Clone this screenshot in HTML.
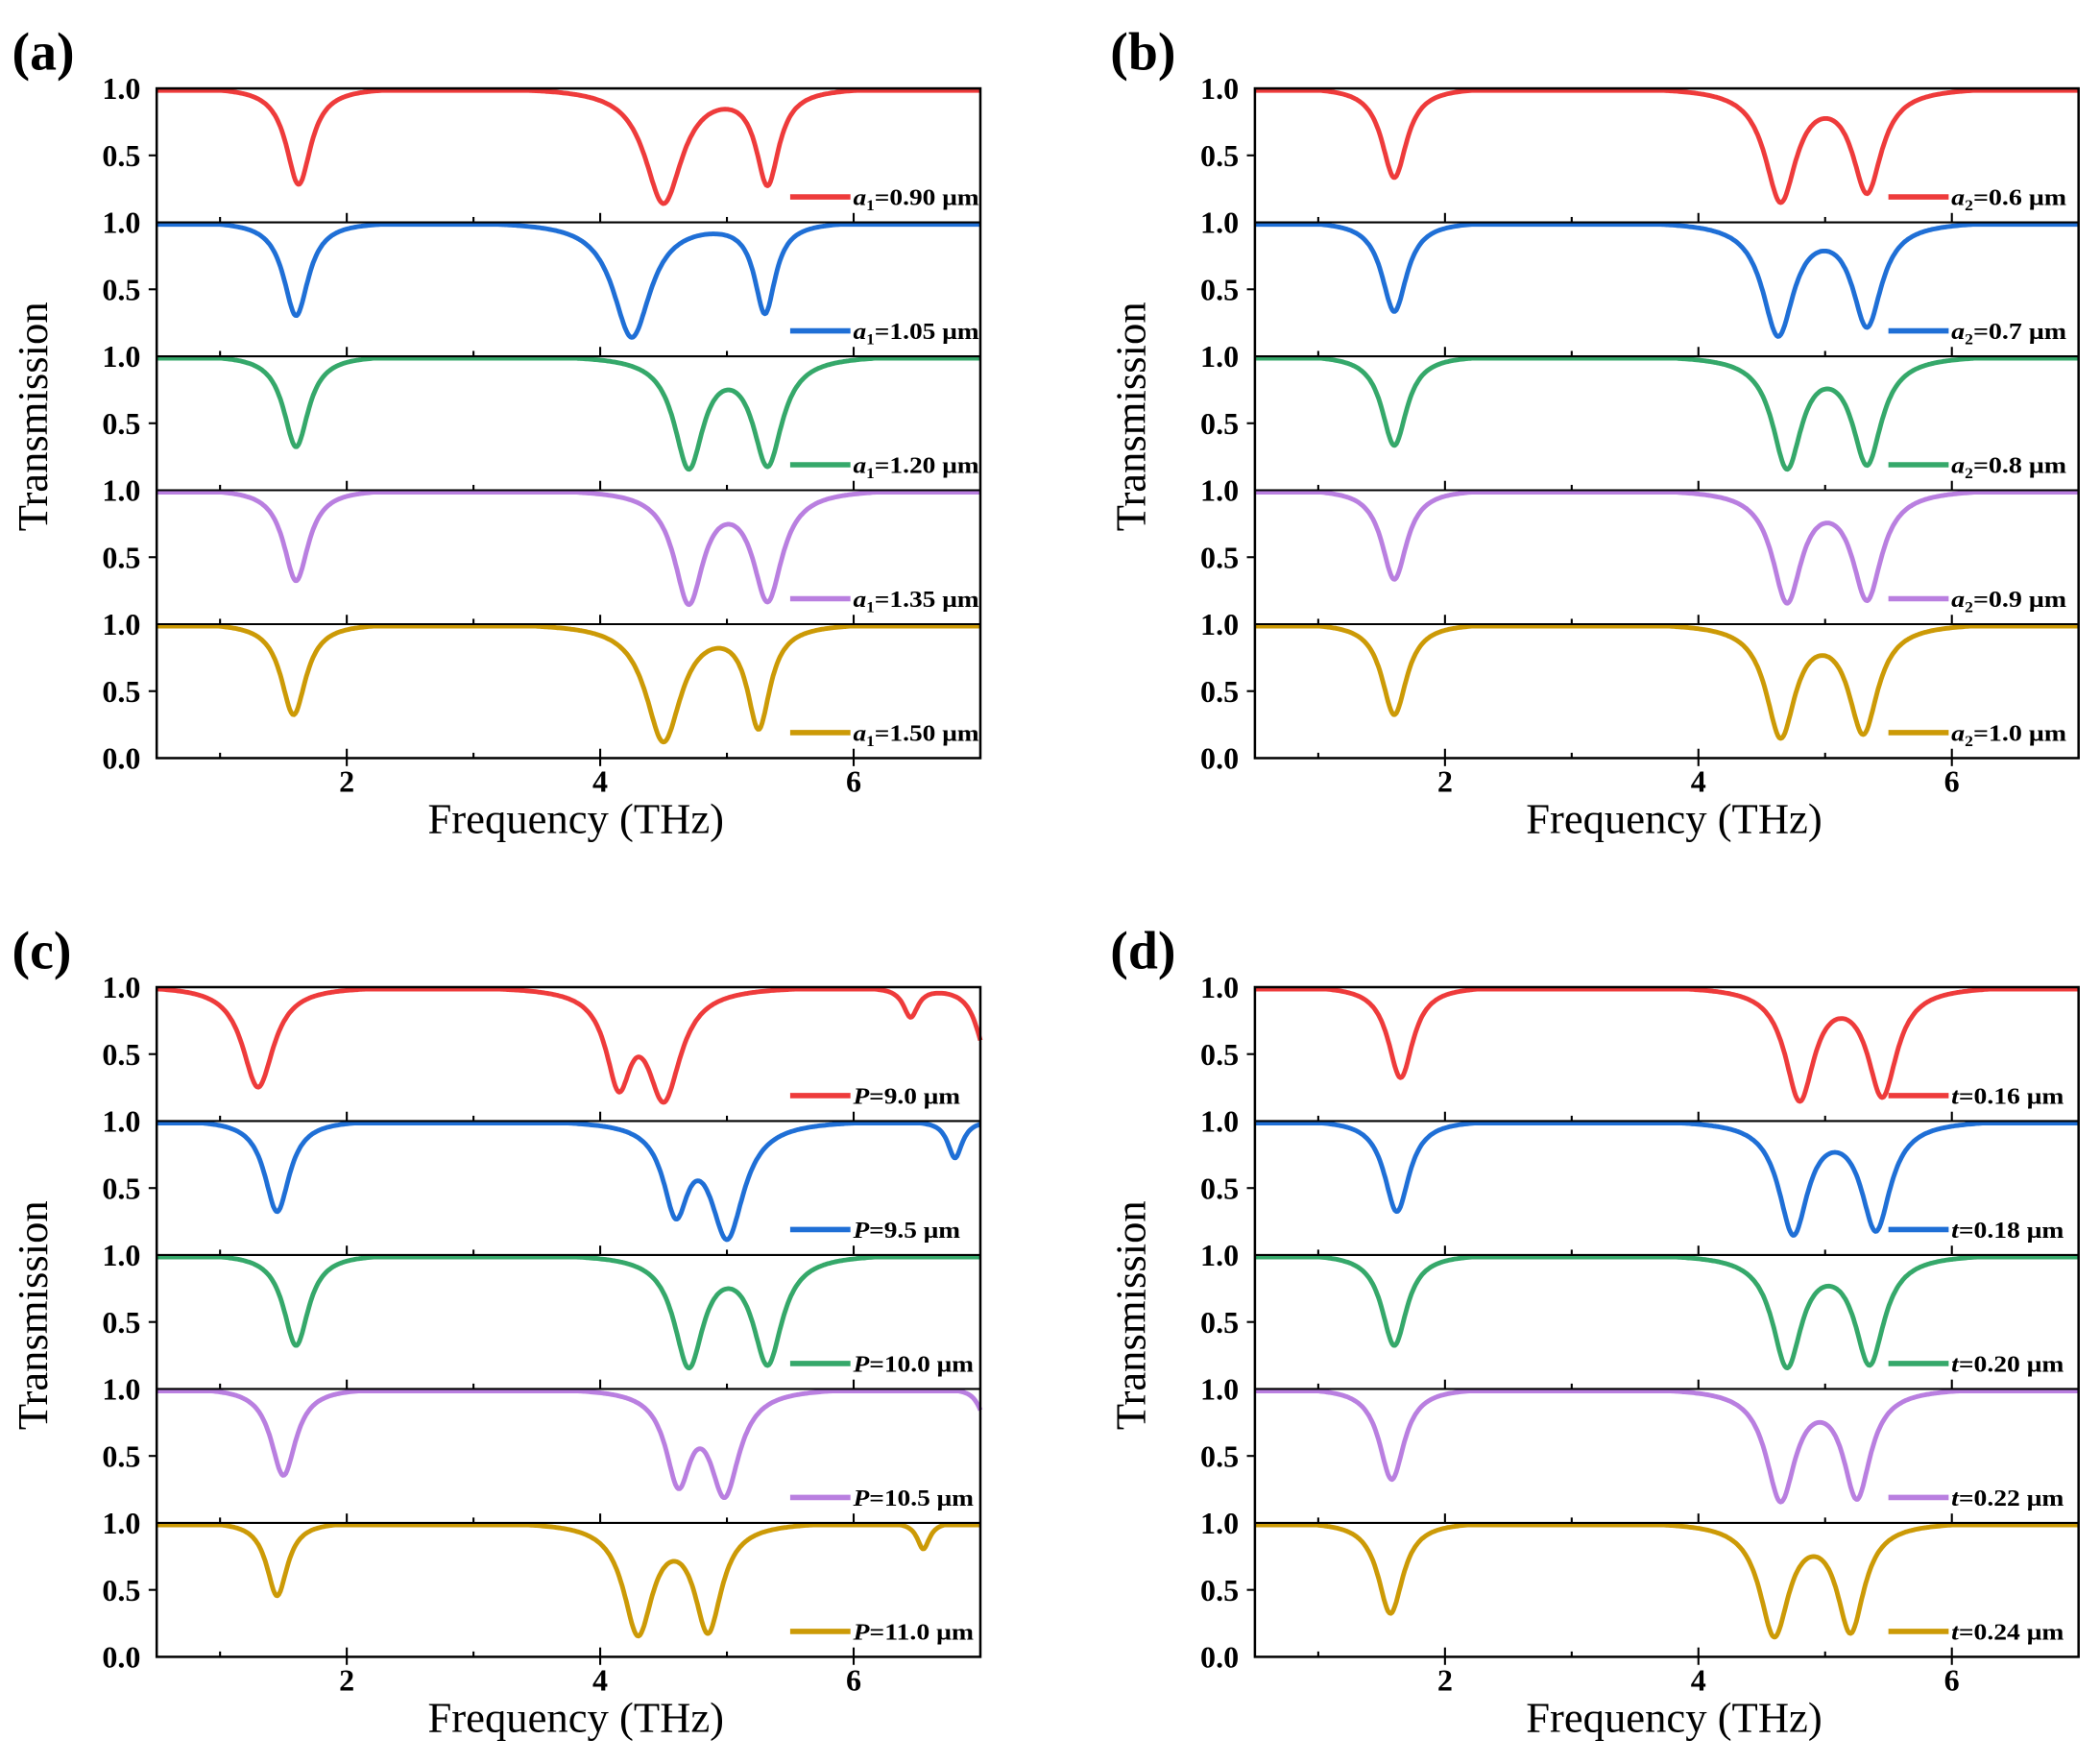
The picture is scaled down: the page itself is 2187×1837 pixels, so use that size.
<!DOCTYPE html>
<html><head><meta charset="utf-8"><style>
html,body{margin:0;padding:0;background:#fff}
svg{display:block}
text{font-family:"Liberation Serif","Times New Roman",serif}
</style></head><body>
<svg id="s" width="2187" height="1837" viewBox="0 0 1568 1317" preserveAspectRatio="none" xmlns="http://www.w3.org/2000/svg"></svg>
<script>
const s=document.getElementById('s');
const NS='http://www.w3.org/2000/svg';
function el(t,a,txt){const e=document.createElementNS(NS,t);for(const k in a)e.setAttribute(k,a[k]);if(txt!==undefined)e.innerHTML=txt;s.appendChild(e);return e;}
const cols=['#ee3b3b','#1f6fd6','#35a86a','#b97fe0','#cc9a06'];
const sub=n=>`<tspan font-style="italic">a</tspan><tspan font-size="11" dy="4">${n}</tspan><tspan dy="-4">`;
const panels=[
 {x:117,y:66,lab:'(a)',tl:[94,94,94,94,94],leg:[sub(1)+'=0.90 μm</tspan>',sub(1)+'=1.05 μm</tspan>',sub(1)+'=1.20 μm</tspan>',sub(1)+'=1.35 μm</tspan>',sub(1)+'=1.50 μm</tspan>'],
 c:[[[1.62,.72,.12],[4.5,.86,.18],[5.32,.72,.11]],
    [[1.6,.7,.12],[4.25,.86,.18],[5.3,.68,.1]],
    [[1.6,.68,.12],[4.7,.84,.14],[5.32,.82,.14]],
    [[1.6,.68,.12],[4.7,.85,.14],[5.32,.83,.14]],
    [[1.58,.68,.12],[4.5,.88,.17],[5.25,.78,.11]]]},
 {x:937,y:66,lab:'(b)',tl:[86,86,86,86,86],leg:[sub(2)+'=0.6 μm</tspan>',sub(2)+'=0.7 μm</tspan>',sub(2)+'=0.8 μm</tspan>',sub(2)+'=0.9 μm</tspan>',sub(2)+'=1.0 μm</tspan>'],
 c:[[[1.6,.67,.12],[4.65,.85,.15],[5.33,.78,.14]],
    [[1.6,.67,.12],[4.63,.85,.15],[5.33,.78,.14]],
    [[1.6,.67,.12],[4.7,.84,.14],[5.33,.81,.14]],
    [[1.6,.67,.12],[4.7,.84,.14],[5.33,.82,.14]],
    [[1.6,.68,.12],[4.65,.85,.14],[5.3,.82,.14]]]},
 {x:117,y:737,lab:'(c)',tl:[80,80,90,90,90],leg:['<tspan font-style="italic">P</tspan>=9.0 μm','<tspan font-style="italic">P</tspan>=9.5 μm','<tspan font-style="italic">P</tspan>=10.0 μm','<tspan font-style="italic">P</tspan>=10.5 μm','<tspan font-style="italic">P</tspan>=11.0 μm'],
 c:[[[1.3,.75,.15],[4.15,.75,.12],[4.5,.85,.16],[6.45,.22,.07],[7.05,.5,.1]],
    [[1.45,.68,.12],[4.6,.7,.12],[5.0,.88,.16],[6.8,.28,.07]],
    [[1.6,.68,.12],[4.7,.84,.14],[5.32,.82,.14]],
    [[1.5,.65,.12],[4.62,.72,.12],[4.98,.8,.14],[7.05,.25,.07]],
    [[1.45,.55,.1],[4.3,.84,.14],[4.85,.82,.13],[6.55,.2,.06]]]},
 {x:937,y:737,lab:'(d)',tl:[84,84,84,84,84],leg:['<tspan font-style="italic">t</tspan>=0.16 μm','<tspan font-style="italic">t</tspan>=0.18 μm','<tspan font-style="italic">t</tspan>=0.20 μm','<tspan font-style="italic">t</tspan>=0.22 μm','<tspan font-style="italic">t</tspan>=0.24 μm'],
 c:[[[1.65,.68,.12],[4.8,.85,.14],[5.45,.82,.14]],
    [[1.62,.68,.12],[4.75,.85,.14],[5.4,.82,.14]],
    [[1.6,.68,.12],[4.7,.84,.14],[5.35,.82,.14]],
    [[1.58,.68,.12],[4.65,.84,.14],[5.25,.82,.13]],
    [[1.57,.68,.12],[4.6,.85,.14],[5.2,.82,.13]]]}
];
const W=615,H=100,f0=0.5,f1=7.0;
for(const p of panels){
  const X=f=>p.x+(f-f0)/(f1-f0)*W;
  el('text',{x:p.x-108,y:p.y-14,'font-size':40,'font-weight':'bold'},p.lab);
  el('text',{x:0,y:0,'font-size':32,'text-anchor':'middle',transform:`translate(${p.x-82},${p.y+245}) rotate(-90)`},'Transmission');
  el('text',{x:p.x+313,y:p.y+556,'font-size':32,'text-anchor':'middle'},'Frequency (THz)');
  for(let i=0;i<5;i++){
    const y0=p.y+i*H;
    const pts=[];
    for(let k=0;k<=600;k++){
      const f=f0+(f1-f0)*k/600;let T=1;
      for(const [fc,d,w] of p.c[i]){T*=1-d/(1+((f-fc)/w)**2);}
      T=T*1.025;
      T=Math.max(0,Math.min(0.995,T));
      pts.push(X(f).toFixed(1)+','+(y0+1+(1-T)*(H-1)).toFixed(1));
    }
    el('polyline',{points:pts.join(' '),fill:'none',stroke:cols[i],'stroke-width':3.5,'stroke-linejoin':'round'});
    el('line',{x1:p.x+473,x2:p.x+518,y1:y0+81,y2:y0+81,stroke:cols[i],'stroke-width':4});
    el('text',{x:p.x+520,y:y0+87,'font-size':17.5,'font-weight':'bold',textLength:p.tl[i],lengthAdjust:'spacingAndGlyphs'},p.leg[i]);
    el('text',{x:p.x-12,y:y0+8,'font-size':23,'font-weight':'bold','text-anchor':'end'},'1.0');
    el('text',{x:p.x-12,y:y0+58,'font-size':23,'font-weight':'bold','text-anchor':'end'},'0.5');
    el('line',{x1:p.x-6,x2:p.x,y1:y0+50,y2:y0+50,stroke:'#000','stroke-width':1.5});
    for(let f=1;f<=6;f++){
      const L=f%2==0?7:4;
      el('line',{x1:X(f),x2:X(f),y1:y0+H,y2:y0+H-L,stroke:'#000','stroke-width':1.5});
    }
    el('line',{x1:p.x,x2:p.x+W,y1:y0,y2:y0,stroke:'#000','stroke-width':1.5});
  }
  el('text',{x:p.x-12,y:p.y+508,'font-size':23,'font-weight':'bold','text-anchor':'end'},'0.0');
  el('rect',{x:p.x,y:p.y,width:W,height:5*H,fill:'none',stroke:'#000','stroke-width':1.8});
  for(const f of [2,4,6]){
    el('line',{x1:X(f),x2:X(f),y1:p.y+500,y2:p.y+506,stroke:'#000','stroke-width':1.5});
    el('text',{x:X(f),y:p.y+525,'font-size':23,'font-weight':'bold','text-anchor':'middle'},String(f));
  }
}
</script>
</body></html>
